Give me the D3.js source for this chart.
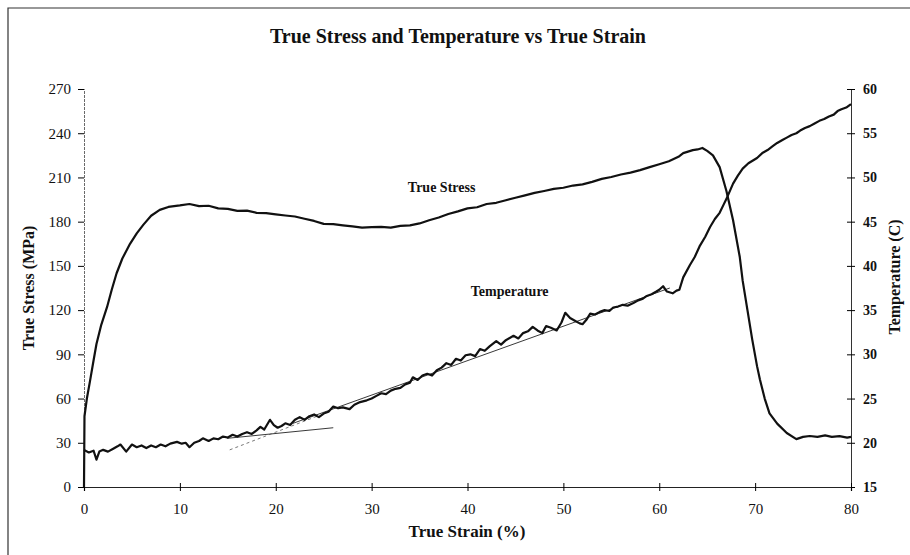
<!DOCTYPE html>
<html>
<head>
<meta charset="utf-8">
<script src="https://cdn.jsdelivr.net/npm/d3@7"></script>
<style>
  body { margin: 0; background: #fff; }
  svg text { font-family: "Liberation Serif", "Times New Roman", serif; fill: #111; }
</style>
</head>
<body>
<div id="chart"></div>
<script>
// True stress (MPa) vs true strain (%)
const stressStrain = [0, 0.05, 0.3, 0.63, 1.0, 1.3, 1.8, 2.4, 2.9, 3.4, 4.0, 4.8, 5.5, 6.2, 7.0, 7.9, 8.8, 10, 11, 12, 13, 14, 15, 16, 17, 18, 19, 20, 21, 22, 23, 24, 25, 26, 27, 28, 29, 30, 31, 32, 33, 34, 35, 36, 37, 38, 39, 40, 41, 42, 43, 44, 45, 46, 47, 48, 49, 50, 51, 52, 53, 54, 55, 56, 57, 58, 59, 60, 61, 62, 62.5, 63, 63.5, 64, 64.5, 65, 65.6, 66.3, 67, 67.7, 68.4, 68.7, 69.2, 69.7, 70.2, 70.5, 71, 71.5, 72.3, 73.3, 74.3, 75, 75.7, 76.5, 77.3, 78, 78.8, 79.6, 80];
const stressValues = [0, 48, 60, 72, 86, 97, 110, 122, 134, 145, 155, 165, 172, 178, 184, 188, 190, 191, 192, 190.5, 190.8, 189, 188.7, 187.3, 187.5, 186, 185.8, 185, 184.2, 183.5, 182, 180.5, 178.5, 178.3, 177.5, 176.8, 176, 176.3, 176.5, 176, 177.2, 177.5, 178.8, 181, 182.8, 185.2, 187, 189, 189.8, 192, 192.8, 194.5, 196.2, 197.8, 199.5, 200.8, 202.2, 203, 204.5, 205.3, 207, 209, 210.3, 212, 213.3, 215, 217, 219, 221, 224, 226.5, 227.5, 228.5, 229, 230, 228, 225, 217, 201, 181, 156, 140, 120, 100, 82, 73, 60, 50, 43, 36.6, 32.5, 34, 34.6, 34, 35, 34, 34.5, 33.5, 34];

// Temperature (C) vs true strain (%)
const tempStrain = [0, 0.5, 1.0, 1.3, 1.6, 2.0, 2.5, 3.0, 3.5, 3.8, 4.4, 5.0, 5.5, 6.0, 6.5, 7.0, 7.5, 8.0, 8.5, 9.0, 9.7, 10.2, 10.6, 11.0, 11.5, 12.0, 12.4, 13.0, 13.5, 14.0, 14.5, 15.0, 15.5, 16.0, 16.5, 17.0, 17.5, 18.0, 18.4, 18.8, 19.4, 19.8, 20.2, 20.6, 21.0, 21.5, 22.0, 22.5, 23.0, 23.5, 24.0, 24.5, 25.0, 25.5, 26.0, 26.5, 27.0, 27.7, 28.2, 28.8, 29.5, 30.0, 30.5, 31.0, 31.5, 32.0, 32.5, 33.0, 33.5, 34.0, 34.3, 34.8, 35.3, 35.8, 36.3, 36.8, 37.3, 37.8, 38.3, 38.8, 39.3, 39.8, 40.3, 40.8, 41.3, 41.8, 42.3, 43.0, 43.5, 44.0, 44.8, 45.3, 45.8, 46.3, 46.8, 47.3, 47.8, 48.2, 48.7, 49.3, 49.8, 50.2, 50.7, 51.2, 51.7, 52.0, 52.4, 52.8, 53.3, 53.8, 54.3, 54.8, 55.2, 55.7, 56.2, 56.7, 57.3, 57.8, 58.3, 58.7, 59.2, 59.7, 60.0, 60.4, 60.8, 61.4, 61.8, 62.1, 62.5, 63.2, 63.7, 64.2, 64.8, 65.3, 65.8, 66.3, 66.7, 67.1, 67.7, 68.2, 68.7, 69.3, 70.2, 70.8, 71.3, 71.8, 72.3, 72.8, 73.3, 73.8, 74.3, 74.7, 75.2, 75.7, 76.2, 76.7, 77.2, 77.7, 78.2, 78.6, 79.0, 79.5, 80.0];
const tempValues = [19.2, 18.9, 19.1, 18.1, 19.0, 19.2, 19.0, 19.3, 19.6, 19.8, 19.0, 19.8, 19.5, 19.7, 19.4, 19.7, 19.5, 19.8, 19.6, 19.9, 20.1, 19.9, 20.0, 19.5, 20.0, 20.2, 20.5, 20.2, 20.5, 20.4, 20.7, 20.6, 20.9, 20.7, 21.0, 21.2, 21.0, 21.4, 21.8, 21.5, 22.6, 22.0, 21.7, 21.9, 22.2, 22.0, 22.6, 22.9, 22.6, 23.0, 23.2, 22.9, 23.3, 23.5, 24.1, 23.9, 24.0, 23.8, 24.3, 24.6, 24.8, 25.0, 25.3, 25.6, 25.5, 25.9, 26.1, 26.2, 26.6, 26.8, 27.4, 27.1, 27.6, 27.8, 27.6, 28.2, 28.5, 29.0, 28.8, 29.5, 29.3, 29.9, 30.0, 29.8, 30.6, 30.4, 30.9, 31.5, 31.1, 31.6, 32.1, 31.8, 32.4, 32.6, 33.1, 32.7, 32.4, 33.2, 33.0, 32.7, 33.6, 34.7, 34.1, 33.8, 33.5, 33.4, 33.9, 34.6, 34.5, 34.8, 35.0, 34.9, 35.3, 35.4, 35.6, 35.5, 35.8, 36.1, 36.3, 36.6, 36.8, 37.1, 37.3, 37.7, 37.1, 36.9, 37.2, 37.3, 38.7, 40.1, 41.0, 42.2, 43.3, 44.4, 45.3, 46.0, 46.9, 47.8, 49.3, 50.2, 51.0, 51.6, 52.2, 52.8, 53.1, 53.5, 53.9, 54.2, 54.5, 54.8, 55.0, 55.3, 55.6, 55.8, 56.1, 56.4, 56.6, 56.9, 57.1, 57.5, 57.7, 57.9, 58.3];

// thin fit lines on the temperature curve: [strain, temp]
const fitA = [[14.9, 20.5], [26.0, 21.7]];
const fitB = [[15.2, 19.2], [24.3, 23.0]];
const fitC = [[21.8, 22.2], [61.1, 37.5]];

const xTicks = [0, 10, 20, 30, 40, 50, 60, 70, 80];
const stressTicks = [0, 30, 60, 90, 120, 150, 180, 210, 240, 270];
const tempTicks = [15, 20, 25, 30, 35, 40, 45, 50, 55, 60];

const W = 910, H = 555;
const margin = { top: 89, right: 59, bottom: 68, left: 84 },
    width = W - margin.left - margin.right,
    height = H - margin.top - margin.bottom;

const svgRoot = d3.select("#chart").append("svg")
    .attr("width", W)
    .attr("height", H);

// scanned page frame
svgRoot.append("path")
    .attr("d", "M8,555 L8,8 L910,8")
    .attr("fill", "none")
    .attr("stroke", "#333")
    .attr("stroke-width", 1.2);

const svg = svgRoot.append("g")
    .attr("transform", `translate(${margin.left},${margin.top})`);

const x = d3.scaleLinear().domain([0, 80]).range([0, width]);
const yL = d3.scaleLinear().domain([0, 270]).range([height, 0]);
const yR = d3.scaleLinear().domain([15, 60]).range([height, 0]);

// left axis
const gL = svg.append("g")
    .call(d3.axisLeft(yL).tickValues(stressTicks).tickSize(6).tickPadding(7));
gL.select(".domain").attr("stroke", "#444").attr("stroke-width", 0.8).attr("stroke-dasharray", "3,1");
gL.selectAll("text").style("font-size", "15px");

// right axis
const gR = svg.append("g")
    .attr("transform", `translate(${width},0)`)
    .call(d3.axisRight(yR).tickValues(tempTicks).tickSize(4).tickPadding(8));
gR.select(".domain").attr("stroke", "#333").attr("stroke-width", 1);
gR.selectAll(".tick line").attr("x1", -4);
gR.selectAll("text").style("font-size", "14px").style("font-weight", "bold");

// bottom axis
const gB = svg.append("g")
    .attr("transform", `translate(0,${height})`)
    .call(d3.axisBottom(x).tickValues(xTicks).tickSize(4).tickPadding(12));
gB.select(".domain").attr("stroke", "#222").attr("stroke-width", 1.2);
gB.selectAll(".tick line").attr("y1", -4);
gB.selectAll("text").style("font-size", "15px");

// fit lines
const fitLine = d3.line().x(d => x(d[0])).y(d => yR(d[1]));
svg.append("path").datum(fitA)
    .attr("fill", "none").attr("stroke", "#222").attr("stroke-width", 0.9)
    .attr("d", fitLine);
svg.append("path").datum(fitB)
    .attr("fill", "none").attr("stroke", "#555").attr("stroke-width", 0.8)
    .attr("stroke-dasharray", "3,3")
    .attr("d", fitLine);
svg.append("path").datum(fitC)
    .attr("fill", "none").attr("stroke", "#222").attr("stroke-width", 0.9)
    .attr("d", fitLine);

// stress curve
svg.append("path")
    .datum(d3.zip(stressStrain, stressValues))
    .attr("fill", "none")
    .attr("stroke", "#111")
    .attr("stroke-width", 2.2)
    .attr("stroke-linejoin", "round")
    .attr("d", d3.line().x(d => x(d[0])).y(d => yL(d[1])));

// temperature curve
svg.append("path")
    .datum(d3.zip(tempStrain, tempValues))
    .attr("fill", "none")
    .attr("stroke", "#111")
    .attr("stroke-width", 2.2)
    .attr("stroke-linejoin", "round")
    .attr("d", d3.line().x(d => x(d[0])).y(d => yR(d[1])));

// curve labels
svg.append("text")
    .attr("x", x(37.3)).attr("y", yL(190) - 15)
    .attr("text-anchor", "middle")
    .style("font-size", "14px").style("font-weight", "bold")
    .text("True Stress");
svg.append("text")
    .attr("x", x(44.4)).attr("y", yR(35) - 14)
    .attr("text-anchor", "middle")
    .style("font-size", "14px").style("font-weight", "bold")
    .text("Temperature");

// titles
svgRoot.append("text")
    .attr("x", 458).attr("y", 43)
    .attr("text-anchor", "middle")
    .style("font-size", "20px").style("font-weight", "bold")
    .text("True Stress and Temperature vs True Strain");

svgRoot.append("text")
    .attr("x", 467).attr("y", 537)
    .attr("text-anchor", "middle")
    .style("font-size", "17px").style("font-weight", "bold")
    .text("True Strain (%)");

svgRoot.append("text")
    .attr("transform", "translate(34,288) rotate(-90)")
    .attr("text-anchor", "middle")
    .style("font-size", "16px").style("font-weight", "bold")
    .text("True Stress (MPa)");

svgRoot.append("text")
    .attr("transform", "translate(900,277) rotate(-90)")
    .attr("text-anchor", "middle")
    .style("font-size", "16px").style("font-weight", "bold")
    .text("Temperature (C)");
</script>
</body>
</html>
